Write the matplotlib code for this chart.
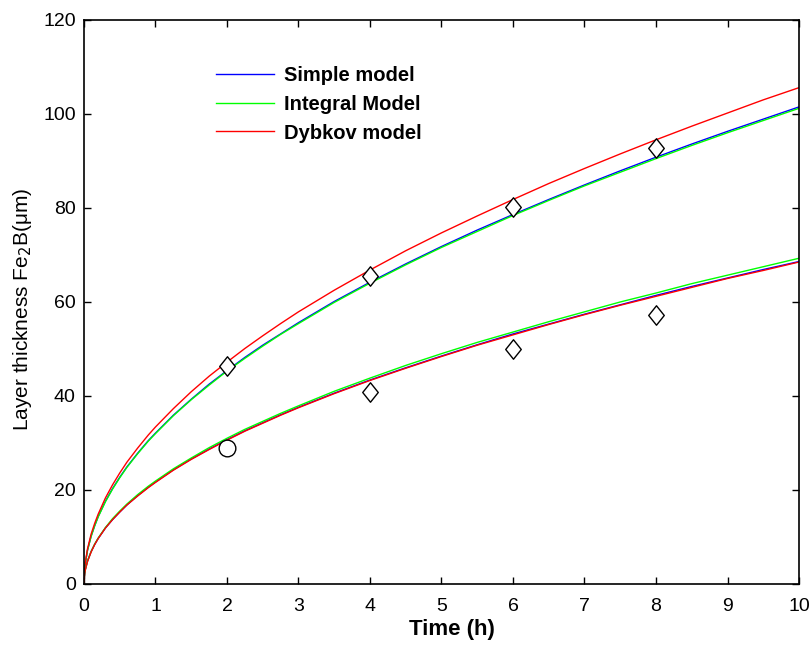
import matplotlib

matplotlib.use("Agg")
import matplotlib.pyplot as plt  # noqa: E402
from matplotlib.path import Path  # noqa: E402

plt.rcParams["font.family"] = ["Liberation Sans", "DejaVu Sans"]

t = [0, 0.01, 0.02, 0.05, 0.1, 0.15, 0.2, 0.3, 0.4, 0.5, 0.6, 0.75, 0.9,
     1, 1.25, 1.5, 1.75, 2, 2.25, 2.5, 2.75, 3, 3.5, 4, 4.5, 5, 5.5, 6,
     6.5, 7, 7.5, 8, 8.5, 9, 9.5, 10]

# upper set of curves
simple_hi = [0, 3.2, 4.5, 7.2, 10.2, 12.4, 14.4, 17.6, 20.3, 22.7, 24.9,
             27.8, 30.5, 32.1, 35.9, 39.3, 42.5, 45.4, 48.2, 50.8, 53.2,
             55.6, 60.1, 64.2, 68.1, 71.8, 75.3, 78.6, 81.8, 84.9, 87.9,
             90.8, 93.6, 96.3, 98.9, 101.5]
integral_hi = [0, 3.2, 4.5, 7.2, 10.1, 12.4, 14.3, 17.5, 20.2, 22.6, 24.8,
               27.7, 30.4, 32.0, 35.8, 39.2, 42.3, 45.3, 48.0, 50.6, 53.1,
               55.4, 59.9, 64.0, 67.9, 71.6, 75.0, 78.4, 81.6, 84.7, 87.6,
               90.5, 93.3, 96.0, 98.6, 101.2]
dybkov_hi = [0, 3.3, 4.7, 7.5, 10.6, 12.9, 14.9, 18.3, 21.1, 23.6, 25.9,
             28.9, 31.7, 33.4, 37.3, 40.9, 44.2, 47.2, 50.1, 52.8, 55.4,
             57.9, 62.5, 66.8, 70.9, 74.7, 78.3, 81.8, 85.2, 88.4, 91.5,
             94.5, 97.4, 100.2, 103.0, 105.6]

# lower set of curves
simple_lo = [0, 2.2, 3.1, 4.9, 6.9, 8.4, 9.7, 11.9, 13.7, 15.3, 16.8,
             18.8, 20.6, 21.7, 24.3, 26.6, 28.7, 30.7, 32.6, 34.3, 36.0,
             37.6, 40.6, 43.4, 46.0, 48.5, 50.9, 53.2, 55.3, 57.4, 59.4,
             61.4, 63.3, 65.1, 66.9, 68.6]
integral_lo = [0, 2.2, 3.1, 4.9, 6.9, 8.5, 9.8, 12.0, 13.9, 15.5, 17.0,
               19.0, 20.8, 21.9, 24.5, 26.8, 29.0, 31.0, 32.9, 34.6, 36.3,
               37.9, 41.0, 43.8, 46.5, 49.0, 51.4, 53.6, 55.8, 57.9, 60.0,
               61.9, 63.9, 65.7, 67.5, 69.3]
dybkov_lo = [0, 2.2, 3.1, 4.8, 6.8, 8.4, 9.7, 11.9, 13.7, 15.3, 16.8,
             18.7, 20.5, 21.6, 24.2, 26.5, 28.6, 30.6, 32.5, 34.2, 35.9,
             37.5, 40.5, 43.3, 45.9, 48.4, 50.8, 53.0, 55.2, 57.3, 59.3,
             61.2, 63.1, 65.0, 66.7, 68.5]

# experimental points
exp_t_hi = [2, 4, 6, 8]
exp_hi = [46.4, 65.5, 80.2, 92.7]
exp_t_lo = [4, 6, 8]
exp_lo = [40.9, 50.0, 57.2]
exp_t_circ = [2]
exp_circ = [28.9]

diamond = Path([(0, 1), (0.8, 0), (0, -1), (-0.8, 0), (0, 1)],
               [Path.MOVETO, Path.LINETO, Path.LINETO, Path.LINETO,
                Path.CLOSEPOLY])

fig = plt.figure(figsize=(8.12, 6.48), dpi=100)
ax = fig.add_axes([0.1034, 0.0988, 0.8806, 0.8704])

ax.plot(t, simple_hi, color="#0000ff", lw=1, label="Simple model")
ax.plot(t, integral_hi, color="#00ff00", lw=1, label="Integral Model")
ax.plot(t, dybkov_hi, color="#ff0000", lw=1, label="Dybkov model")
ax.plot(t, simple_lo, color="#0000ff", lw=1)
ax.plot(t, integral_lo, color="#00ff00", lw=1)
ax.plot(t, dybkov_lo, color="#ff0000", lw=1)

ax.plot(exp_t_hi, exp_hi, ls="none", marker=diamond, ms=14, mfc="white",
        mec="black", mew=1)
ax.plot(exp_t_lo, exp_lo, ls="none", marker=diamond, ms=14, mfc="white",
        mec="black", mew=1)
ax.plot(exp_t_circ, exp_circ, ls="none", marker="o", ms=12, mfc="white",
        mec="black", mew=1)

ax.set_xlim(0, 10)
ax.set_ylim(0, 120)
ax.set_xticks(range(0, 11))
ax.set_yticks(range(0, 121, 20))
ax.tick_params(direction="in", top=True, right=True, length=5, width=1,
               labelsize=14)
ax.tick_params(axis="x", pad=10)
ax.tick_params(axis="y", pad=6)
for s in ax.spines.values():
    s.set_linewidth(1.2)

ax.set_xlabel("Time (h)", fontsize=16, fontweight="bold", labelpad=3)
ax.set_ylabel("Layer thickness Fe$_2$B(μm)", fontsize=15)
ax.xaxis.label.set_x(0.515)
ax.yaxis.set_label_coords(-0.070, 0.486)

ax.legend(loc="upper left", bbox_to_anchor=(0.1846, 0.918), frameon=False,
          prop={"weight": "bold", "size": 14.5}, handlelength=2.9,
          handletextpad=0.5, labelspacing=0.48, borderpad=0,
          borderaxespad=0)

fig.savefig("out.png", dpi=100)
plt.close(fig)
